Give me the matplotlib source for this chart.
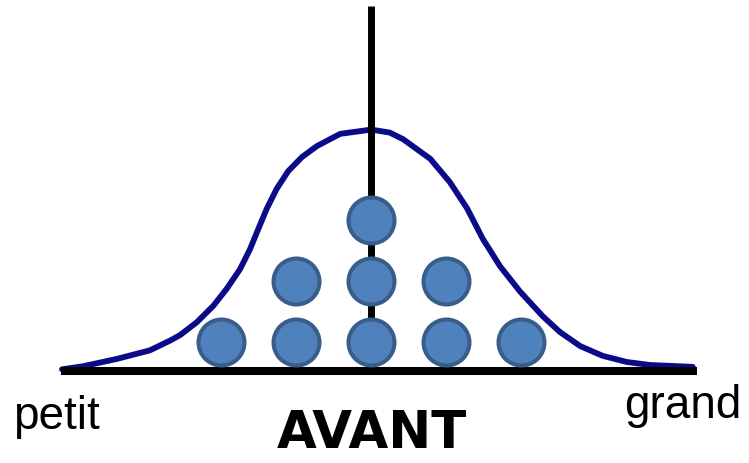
import numpy as np
import matplotlib
matplotlib.use("Agg")
import matplotlib.pyplot as plt

# bell curve (x = size, y = height, dot spacing = 1)
curve_x = [-4.12, -3.84, -3.39, -2.95, -2.68, -2.547, -2.324, -2.103, -1.924, -1.747,
           -1.613, -1.503, -1.391, -1.257, -1.103, -0.92, -0.72, -0.41, -0.11, 0.0,
           0.25, 0.43, 0.79, 1.05, 1.28, 1.49, 1.72, 1.99, 2.29, 2.52,
           2.79, 3.09, 3.41, 3.72, 4.29]
curve_y = [0.02, 0.07, 0.19, 0.33, 0.49, 0.58, 0.79, 1.06, 1.34, 1.66,
           1.99, 2.32, 2.65, 2.98, 3.27, 3.50, 3.68, 3.88, 3.93, 3.95,
           3.90, 3.79, 3.47, 3.09, 2.66, 2.16, 1.71, 1.29, 0.89, 0.63,
           0.40, 0.24, 0.14, 0.09, 0.06]

# dots: how many in each size bin
bins = [-2, -1, 0, 1, 2]
counts = [1, 2, 3, 2, 1]

label_left = "petit"
label_right = "grand"
title = "AVANT"

fig = plt.figure(figsize=(7.49, 4.64), dpi=100)
ax = fig.add_axes([0, 0, 1, 1])
ax.set_xlim(-4.947, 5.04)
ax.set_ylim(-1.516, 6.09)
ax.axis('off')

# curve
ax.plot(curve_x, curve_y, color='#0b0b8a', lw=4.2, solid_capstyle='round',
        solid_joinstyle='round', zorder=2)

# axes lines (drawn over the curve)
ax.plot([-4.13, 4.35], [0, 0], color='black', lw=5.8, solid_capstyle='butt', zorder=3)
ax.plot([0, 0], [0, 5.98], color='black', lw=5.0, solid_capstyle='butt', zorder=3)

# stacked dots
dx, dy = [], []
for b, c in zip(bins, counts):
    for k in range(c):
        dx.append(b)
        dy.append(k + 0.47)
ax.scatter(dx, dy, s=1096, facecolor='#4f81bd', edgecolor='#385d8a',
           linewidth=2.9, zorder=4)

# texts
ax.text(-4.78, -0.94, label_left, fontsize=33, family='Liberation Sans',
        ha='left', va='baseline')
ax.text(3.38, -0.76, label_right, fontsize=33, family='Liberation Sans',
        ha='left', va='baseline')
ax.text(0.01, -1.25, title, fontsize=37, family='DejaVu Sans', weight='bold',
        ha='center', va='baseline')

fig.savefig('out.png', dpi=100)
